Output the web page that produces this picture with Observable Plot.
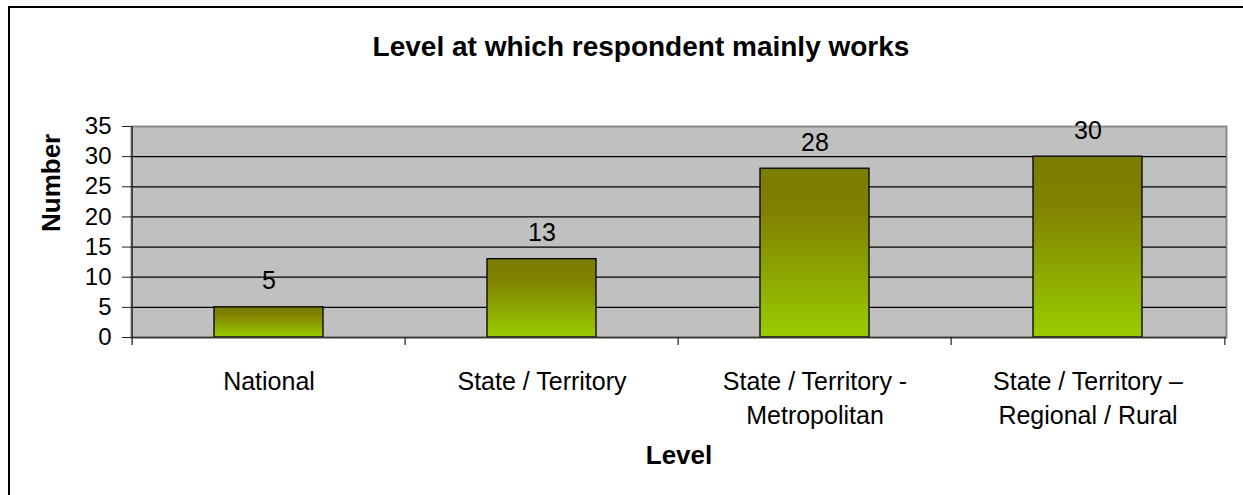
<!DOCTYPE html>
<html><head><meta charset="utf-8">
<script src="https://cdn.jsdelivr.net/npm/d3@7"></script>
<script src="https://cdn.jsdelivr.net/npm/@observablehq/plot@0.6"></script>
<style>
body{margin:0;background:#fff;}
#wrap{position:relative;width:1243px;height:495px;overflow:hidden;background:#fff;}
#border{position:absolute;left:8px;top:6px;width:1400px;height:700px;border-left:2px solid #000;border-top:2px solid #000;pointer-events:none;}
</style></head><body>
<div id="wrap"><div id="border"></div></div>
<script>
const title = "Level at which respondent mainly works";
const categories = ["National", "State / Territory", "State / Territory - Metropolitan", "State / Territory – Regional / Rural"];
const tickLabels = ["National", "State / Territory", "State / Territory -\nMetropolitan", "State / Territory –\nRegional / Rural"];
const values = [5, 13, 28, 30];
const yTicks = [0, 5, 10, 15, 20, 25, 30, 35];
const xTitle = "Level";
const yTitle = "Number";

const data = categories.map((c, i) => ({category: c, value: values[i]}));

const W = 1243, H = 495;
const mL = 131, mR = 17, mT = 126, mB = 158;
const frameW = W - mL - mR, frameH = H - mT - mB;
const step = frameW / categories.length;

const defs = () => {
  const d = document.createElementNS("http://www.w3.org/2000/svg", "defs");
  d.innerHTML = '<linearGradient id="barGrad" x1="0" y1="0" x2="0" y2="1">' +
    '<stop offset="0" stop-color="#7c7c00"/>' +
    '<stop offset="0.25" stop-color="#808000"/>' +
    '<stop offset="1" stop-color="#99cc00"/></linearGradient>';
  return d;
};

const chart = Plot.plot({
  width: W, height: H,
  marginLeft: mL, marginRight: mR, marginTop: mT, marginBottom: mB,
  style: {fontFamily: "'Liberation Sans', Arial, sans-serif", fontSize: "24px", color: "#000", background: "transparent"},
  x: {domain: categories, paddingInner: 0.6, paddingOuter: 0.3},
  y: {domain: [0, 35]},
  marks: [
    defs,
    Plot.frame({fill: "#c0c0c0", stroke: "#8a8a8a", strokeWidth: 2}),
    Plot.ruleY(yTicks.filter(v => v > 0 && v < 35), {stroke: "#000", strokeWidth: 1.2}),
    Plot.barY(data, {x: "category", y: "value", fill: "url(#barGrad)", stroke: "#000", strokeWidth: 1.3}),
    Plot.ruleY([0], {stroke: "#333", strokeWidth: 1.5}),
    Plot.ruleX([categories[0]], {x: d => d, dx: -step / 2, insetBottom: -8, stroke: "#222", strokeWidth: 1.3}),
    Plot.ruleX(categories.slice(1), {x: d => d, dx: -step / 2, insetTop: frameH, insetBottom: -8, stroke: "#222", strokeWidth: 1.2}),
    Plot.ruleX([categories[categories.length - 1]], {x: d => d, dx: step / 2, insetTop: frameH, insetBottom: -8, stroke: "#222", strokeWidth: 1.2}),
    Plot.axisY({ticks: yTicks, tickSize: 9, tickPadding: 11, fontSize: 24, label: null, stroke: "#222"}),
    Plot.axisX({tickSize: 0, tickPadding: 28, fontSize: 25, lineHeight: 1.36, label: null,
      tickFormat: d => tickLabels[categories.indexOf(d)]}),
    Plot.text(data, {x: "category", y: "value", text: d => String(d.value), dy: -26, fontSize: 25, lineAnchor: "middle"}),
    Plot.text([title], {text: d => d, frameAnchor: "top", dx: -38, dy: -79.5, fontSize: 28, fontWeight: "bold", lineAnchor: "middle"}),
    Plot.text([xTitle], {text: d => d, frameAnchor: "bottom", dy: 118.5, fontSize: 26, fontWeight: "bold", lineAnchor: "middle"}),
    Plot.text([yTitle], {text: d => d, frameAnchor: "left", dx: -80, rotate: -90, fontSize: 26, fontWeight: "bold", lineAnchor: "middle"})
  ]
});
document.getElementById("wrap").appendChild(chart);
</script>
</body></html>
